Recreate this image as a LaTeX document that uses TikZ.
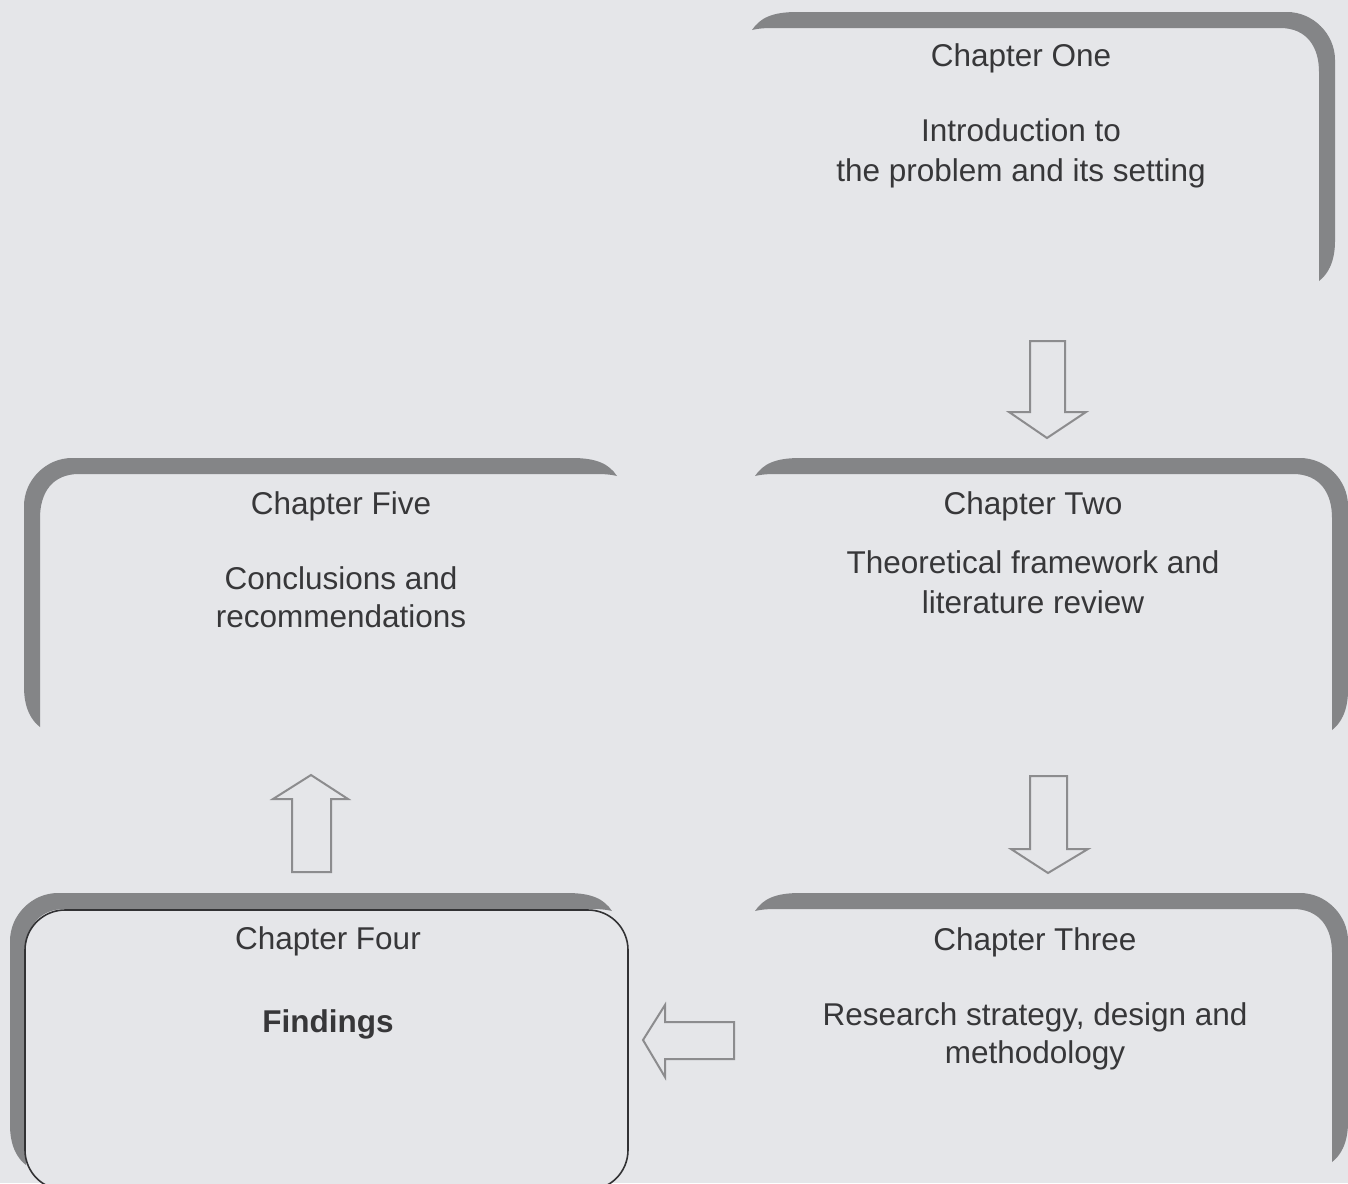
\documentclass[tikz,border=0pt]{standalone}
\usepackage{fontspec}
\setmainfont{Liberation Sans}
\definecolor{bg}{RGB}{229,230,233}
\definecolor{bandgray}{RGB}{132,133,135}
\definecolor{arrowgray}{RGB}{140,140,142}
\definecolor{txt}{RGB}{55,55,57}
\definecolor{outline}{RGB}{50,50,52}
\newcommand\bandR[4]{%
 \fill[bandgray] (#1,{#2+18}) .. controls ({#1+8},{#2+6}) and ({#1+20},#2) .. ({#1+45},#2)
 -- ({#3-48},#2) .. controls ({#3-22},#2) and (#3,{#2+22}) .. (#3,{#2+48})
 -- (#3,{#4-40}) .. controls (#3,{#4-18}) and ({#3-8},{#4-6}) .. ({#3-16},#4)
 -- ({#3-16},{#2+60}) .. controls ({#3-16},{#2+35}) and ({#3-28},{#2+16}) .. ({#3-55},{#2+16})
 -- ({#1+20},{#2+16}) .. controls ({#1+10},{#2+16}) and ({#1+4},{#2+17}) .. cycle;}
\tikzset{
 lbl/.style={anchor=base, text=txt, font=\fontsize{15.75}{20}\selectfont, inner sep=0pt},
 blockarrow/.style={draw=arrowgray, line width=1pt, fill=bg, line join=miter},
}
\begin{document}
\begin{tikzpicture}[x=0.5pt,y=-0.5pt]
\useasboundingbox (0,0) rectangle (1348,1183);
\fill[bg] (0,0) rectangle (1348,1183);
% bands
\bandR{752}{12}{1335}{281}
\bandR{755}{458}{1348}{730}
\bandR{755}{893}{1348}{1162}
\begin{scope}[xscale=-1]
\bandR{-617}{458}{-24}{727}
\bandR{-612}{893}{-10}{1165}
\end{scope}
% box four
\draw[outline, line width=0.8pt, fill=bg, rounded corners=20pt] (25,910) rectangle (628,1190);
% texts
\node[lbl] (c1) at (1021,66) {Chapter One};
\node[lbl] (c1a) at (1021,141) {Introduction to};
\node[lbl] (c1b) at (1021,181) {the problem and its setting};
\node[lbl] (c2) at (1033,514) {Chapter Two};
\node[lbl] (c2a) at (1033,573) {Theoretical framework and};
\node[lbl] (c2b) at (1033,613) {literature review};
\node[lbl] (c3) at (1035,950) {Chapter Three};
\node[lbl] (c3a) at (1035,1025) {Research strategy, design and};
\node[lbl] (c3b) at (1035,1063) {methodology};
\node[lbl] (c4) at (328,949) {Chapter Four};
\node[lbl, font=\fontsize{15.75}{20}\selectfont\bfseries] (c4a) at (328,1032) {Findings};
\node[lbl] (c5) at (341,514) {Chapter Five};
\node[lbl] (c5a) at (341,589) {Conclusions and};
\node[lbl] (c5b) at (341,627) {recommendations};
% block arrows
\draw[blockarrow] (1030,341) -- (1065,341) -- (1065,412) -- (1086,412) -- (1047,438) -- (1009,412) -- (1030,412) -- cycle;
\draw[blockarrow] (1030,776) -- (1067,776) -- (1067,849) -- (1088,849) -- (1048,873) -- (1011,849) -- (1030,849) -- cycle;
\draw[blockarrow] (734,1022) -- (734,1059) -- (665,1059) -- (665,1077) -- (643,1040) -- (665,1005) -- (665,1022) -- cycle;
\draw[blockarrow] (292,872) -- (331,872) -- (331,799) -- (348,799) -- (311,775) -- (273,799) -- (292,799) -- cycle;
\end{tikzpicture}
\end{document}
